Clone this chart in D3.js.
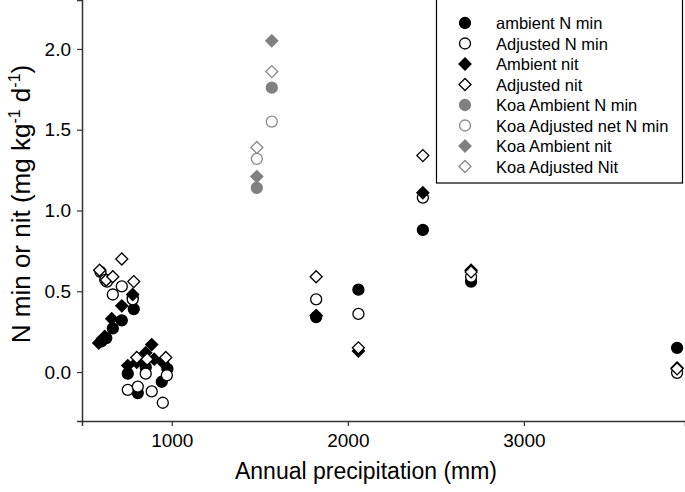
<!DOCTYPE html>
<html>
<head>
<meta charset="utf-8">
<script src="https://cdn.jsdelivr.net/npm/d3@7"></script>
<style>
body { margin: 0; background: #fff; }
text { font-family: "Liberation Sans", Arial, sans-serif; }
</style>
</head>
<body>
<script>
var w = 685;
var h = 492;

// precipitation (mm) and values (mg kg-1 d-1)
var ambNminX = [600, 628, 665, 716, 784, 778, 750, 807, 852, 943, 975, 1820, 2060, 2426, 2700, 3870];
var ambNminY = [0.19, 0.21, 0.27, 0.32, 0.39, 0.46, -0.01, -0.13, 0.03, -0.06, 0.02, 0.34, 0.51, 0.88, 0.56, 0.15];

var adjNminX = [595, 622, 632, 665, 716, 778, 750, 807, 852, 886, 949, 972, 1820, 2060, 2426, 2700, 3870];
var adjNminY = [0.62, 0.57, 0.56, 0.48, 0.53, 0.45, -0.11, -0.09, -0.01, -0.12, -0.19, -0.02, 0.45, 0.36, 1.08, 0.59, -0.005];

var ambNitX = [585, 619, 659, 716, 778, 750, 801, 852, 886, 900, 949, 1820, 2060, 2426, 2700, 3870];
var ambNitY = [0.18, 0.22, 0.33, 0.41, 0.48, 0.04, 0.06, 0.12, 0.17, 0.08, 0.06, 0.35, 0.13, 1.11, 0.63, 0.025];

var adjNitX = [590, 628, 665, 716, 784, 801, 860, 966, 1820, 2060, 2426, 2700, 3870];
var adjNitY = [0.63, 0.57, 0.59, 0.70, 0.56, 0.09, 0.08, 0.09, 0.59, 0.15, 1.34, 0.62, 0.02];

var koaX = [1483, 1568];
var koaAmbNminY = [1.14, 1.76];
var koaAdjNminY = [1.32, 1.55];
var koaAmbNitY = [1.21, 2.05];
var koaAdjNitY = [1.39, 1.86];

var xTicks = [1000, 2000, 3000];
var yTicks = [0, 0.5, 1, 1.5, 2];

var seriesNames = ['ambient N min', 'Adjusted N min', 'Ambient nit', 'Adjusted nit',
	'Koa Ambient N min', 'Koa Adjusted net N min', 'Koa Ambient nit', 'Koa Adjusted Nit'];

function pairs(xs, ys) {
	return xs.map(function(x, i) { return [x, ys[i]]; });
}

var series = [
	{ name: seriesNames[0], pts: pairs(ambNminX, ambNminY), shape: 'circle', fill: '#000', stroke: '#000' },
	{ name: seriesNames[1], pts: pairs(adjNminX, adjNminY), shape: 'circle', fill: '#fff', stroke: '#000' },
	{ name: seriesNames[2], pts: pairs(ambNitX, ambNitY), shape: 'diamond', fill: '#000', stroke: '#000' },
	{ name: seriesNames[3], pts: pairs(adjNitX, adjNitY), shape: 'diamond', fill: '#fff', stroke: '#000' },
	{ name: seriesNames[4], pts: pairs(koaX, koaAmbNminY), shape: 'circle', fill: '#808080', stroke: '#808080' },
	{ name: seriesNames[5], pts: pairs(koaX, koaAdjNminY), shape: 'circle', fill: '#fff', stroke: '#8a8a8a' },
	{ name: seriesNames[6], pts: pairs(koaX, koaAmbNitY), shape: 'diamond', fill: '#808080', stroke: '#808080' },
	{ name: seriesNames[7], pts: pairs(koaX, koaAdjNitY), shape: 'diamond', fill: '#fff', stroke: '#8a8a8a' }
];

var margin = { left: 82, right: 0, top: 0, bottom: 71 };

var x = d3.scaleLinear().domain([490, 3915]).range([margin.left, w - margin.right]);
var y = d3.scaleLinear().domain([-0.303, 2.303]).range([h - margin.bottom, margin.top]);

var svg = d3.select('body')
	.append('svg')
	.attr('width', w)
	.attr('height', h);

var circleSym = d3.symbol().type(d3.symbolCircle).size(95);
var diamondSym = d3.symbol().type(d3.symbolSquare).size(72);

function drawSymbol(sel, s, cx, cy) {
	sel.append('path')
		.attr('d', s.shape === 'circle' ? circleSym() : diamondSym())
		.attr('transform', 'translate(' + cx + ',' + cy + ')' + (s.shape === 'diamond' ? ' rotate(45)' : ''))
		.attr('fill', s.fill)
		.attr('stroke', s.stroke)
		.attr('stroke-width', 1.3);
}

// points
series.forEach(function(s) {
	var g = svg.append('g');
	s.pts.forEach(function(p) {
		drawSymbol(g, s, x(p[0]), y(p[1]));
	});
});

// axes
var xAxis = svg.append('g')
	.attr('transform', 'translate(0,' + (h - margin.bottom) + ')')
	.call(d3.axisBottom(x).tickValues(xTicks).tickSizeOuter(0).tickSize(5).tickPadding(8).tickFormat(d3.format('d')));
var yAxis = svg.append('g')
	.attr('transform', 'translate(' + margin.left + ',0)')
	.call(d3.axisLeft(y).tickValues(yTicks).tickSizeOuter(0).tickSize(5).tickPadding(6).tickFormat(d3.format('.1f')));

[xAxis, yAxis].forEach(function(a) {
	a.select('.domain').attr('stroke', '#333').attr('stroke-width', 1.5);
	a.selectAll('.tick line').attr('stroke', '#333').attr('stroke-width', 1.2);
	a.selectAll('.tick text').attr('fill', '#000').style('font-size', '19px')
		.style('font-family', '"Liberation Sans", Arial, sans-serif');
});

// axis titles
svg.append('text')
	.attr('x', 366)
	.attr('y', 479)
	.attr('text-anchor', 'middle')
	.style('font-size', '23px')
	.text('Annual precipitation (mm)');

var yt = svg.append('text')
	.attr('transform', 'translate(30,204) rotate(-90)')
	.attr('text-anchor', 'middle')
	.style('font-size', '26px');
yt.append('tspan').text('N min or nit (mg kg');
yt.append('tspan').attr('dy', -10).style('font-size', '16px').text('-1');
yt.append('tspan').attr('dy', 10).text(' d');
yt.append('tspan').attr('dy', -10).style('font-size', '16px').text('-1');
yt.append('tspan').attr('dy', 10).text(')');

// legend
var legend = svg.append('g');
legend.append('rect')
	.attr('x', 436.5)
	.attr('y', -1)
	.attr('width', 246)
	.attr('height', 184)
	.attr('fill', '#fff')
	.attr('stroke', '#000')
	.attr('stroke-width', 1.2);

series.forEach(function(s, i) {
	var ly = 23 + i * 20.5;
	drawSymbol(legend, s, 465, ly);
	legend.append('text')
		.attr('x', 496)
		.attr('y', ly + 6)
		.style('font-size', '16.5px')
		.text(s.name);
});
</script>
</body>
</html>
